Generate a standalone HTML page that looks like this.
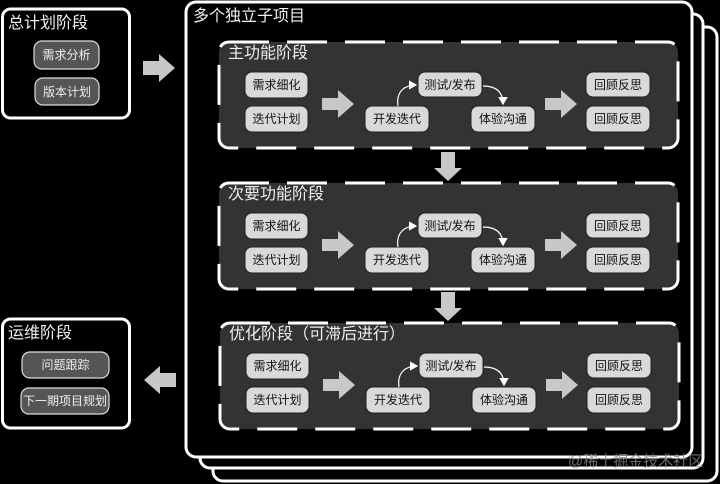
<!DOCTYPE html>
<html><head><meta charset="utf-8"><style>
html,body{margin:0;padding:0;background:#000;width:720px;height:484px;overflow:hidden}
text{font-family:"Liberation Sans","Noto Sans CJK SC",sans-serif}
.n{fill:#d9d9d9;stroke:#222;stroke-width:1}
.nt{font-size:12px;fill:#111;text-anchor:middle}
.d{fill:#555;stroke:#ddd;stroke-width:1.2}
.dt{font-size:12px;fill:#eee;text-anchor:middle}
.t{font-size:16px;fill:#eee}
.ar{fill:#c8c8c8}
.p{fill:#333;stroke:#fff;stroke-width:3;stroke-dasharray:40 18}
.c{fill:none;stroke:#fff;stroke-width:1.2}
</style></head><body>
<svg width="720" height="484" xmlns="http://www.w3.org/2000/svg">
<defs><marker id="m" markerWidth="8" markerHeight="8" refX="6" refY="4" orient="auto"><path d="M0,0 L7,4 L0,8 Z" fill="#fff"/></marker></defs>
<!-- stacked boxes -->
<rect x="213" y="27" width="504" height="454" rx="10" fill="#000" stroke="#fff" stroke-width="3"/>
<rect x="200" y="14" width="503" height="454" rx="10" fill="#000" stroke="#fff" stroke-width="3"/>
<rect x="186" y="2" width="506" height="455" rx="10" fill="#000" stroke="#fff" stroke-width="3"/>
<text x="193" y="21" class="t">多个独立子项目</text>
<!-- left boxes -->
<rect x="2.5" y="9" width="127" height="109" rx="8" fill="#000" stroke="#fff" stroke-width="3"/>
<text x="8" y="28" class="t">总计划阶段</text>
<rect x="34" y="41" width="65" height="28" rx="8" class="d"/><text x="66.5" y="59" class="dt">需求分析</text>
<rect x="35" y="78" width="64" height="27" rx="8" class="d"/><text x="67" y="96" class="dt">版本计划</text>
<path d="M143,61 h16 v-7 l16,14 l-16,14 v-7 h-16 z" class="ar"/>
<rect x="2.5" y="319" width="127" height="109" rx="8" fill="#000" stroke="#fff" stroke-width="3"/>
<text x="8" y="338" class="t">运维阶段</text>
<rect x="22" y="352" width="87" height="26" rx="8" class="d"/><text x="65.5" y="369" class="dt">问题跟踪</text>
<rect x="21" y="388" width="88" height="26" rx="8" class="d"/><text x="65" y="405" class="dt">下一期项目规划</text>
<path d="M176,373 h-16 v-7 l-16,14 l16,14 v-7 h16 z" class="ar"/>
<!-- down arrows -->
<path d="M441,152 h14 v16 h7 l-14,13 l-14,-13 h7 z" class="ar"/>
<path d="M441,292 h14 v16 h7 l-14,13 l-14,-13 h7 z" class="ar"/>
<!-- panel 1 -->
<g>
<rect x="219" y="42" width="459" height="106" rx="10" class="p"/>
<text x="228" y="58" class="t">主功能阶段</text>
<rect x="245" y="72" width="63" height="26" rx="7" class="n"/><text x="276.5" y="89" class="nt">需求细化</text>
<rect x="245" y="106" width="63" height="26" rx="7" class="n"/><text x="276.5" y="123" class="nt">迭代计划</text>
<path d="M322,98 h16 v-8 l16,14 l-16,14 v-8 h-16 z" class="ar"/>
<rect x="418" y="72" width="64" height="25" rx="7" class="n"/><text x="450" y="89" class="nt">测试/发布</text>
<rect x="365" y="106" width="64" height="26" rx="7" class="n"/><text x="397" y="123" class="nt">开发迭代</text>
<rect x="471" y="106" width="64" height="26" rx="7" class="n"/><text x="503" y="123" class="nt">体验沟通</text>
<path d="M398,106 C396,92 404,85 416,85" class="c" marker-end="url(#m)"/>
<path d="M483,86 C496,86 503,92 503,104" class="c" marker-end="url(#m)"/>
<path d="M545,98 h16 v-8 l16,14 l-16,14 v-8 h-16 z" class="ar"/>
<rect x="586" y="72" width="64" height="25" rx="7" class="n"/><text x="618" y="89" class="nt">回顾反思</text>
<rect x="586" y="106" width="64" height="26" rx="7" class="n"/><text x="618" y="123" class="nt">回顾反思</text>
</g>
<g transform="translate(0,141)">
<rect x="219" y="42" width="459" height="106" rx="10" class="p"/>
<text x="228" y="58" class="t">次要功能阶段</text>
<rect x="245" y="72" width="63" height="26" rx="7" class="n"/><text x="276.5" y="89" class="nt">需求细化</text>
<rect x="245" y="106" width="63" height="26" rx="7" class="n"/><text x="276.5" y="123" class="nt">迭代计划</text>
<path d="M322,98 h16 v-8 l16,14 l-16,14 v-8 h-16 z" class="ar"/>
<rect x="418" y="72" width="64" height="25" rx="7" class="n"/><text x="450" y="89" class="nt">测试/发布</text>
<rect x="365" y="106" width="64" height="26" rx="7" class="n"/><text x="397" y="123" class="nt">开发迭代</text>
<rect x="471" y="106" width="64" height="26" rx="7" class="n"/><text x="503" y="123" class="nt">体验沟通</text>
<path d="M398,106 C396,92 404,85 416,85" class="c" marker-end="url(#m)"/>
<path d="M483,86 C496,86 503,92 503,104" class="c" marker-end="url(#m)"/>
<path d="M545,98 h16 v-8 l16,14 l-16,14 v-8 h-16 z" class="ar"/>
<rect x="586" y="72" width="64" height="25" rx="7" class="n"/><text x="618" y="89" class="nt">回顾反思</text>
<rect x="586" y="106" width="64" height="26" rx="7" class="n"/><text x="618" y="123" class="nt">回顾反思</text>
</g>
<g transform="translate(1,281)">
<rect x="219" y="42" width="459" height="106" rx="10" class="p"/>
<text x="228" y="58" class="t">优化阶段（可滞后进行）</text>
<rect x="245" y="72" width="63" height="26" rx="7" class="n"/><text x="276.5" y="89" class="nt">需求细化</text>
<rect x="245" y="106" width="63" height="26" rx="7" class="n"/><text x="276.5" y="123" class="nt">迭代计划</text>
<path d="M322,98 h16 v-8 l16,14 l-16,14 v-8 h-16 z" class="ar"/>
<rect x="418" y="72" width="64" height="25" rx="7" class="n"/><text x="450" y="89" class="nt">测试/发布</text>
<rect x="365" y="106" width="64" height="26" rx="7" class="n"/><text x="397" y="123" class="nt">开发迭代</text>
<rect x="471" y="106" width="64" height="26" rx="7" class="n"/><text x="503" y="123" class="nt">体验沟通</text>
<path d="M398,106 C396,92 404,85 416,85" class="c" marker-end="url(#m)"/>
<path d="M483,86 C496,86 503,92 503,104" class="c" marker-end="url(#m)"/>
<path d="M545,98 h16 v-8 l16,14 l-16,14 v-8 h-16 z" class="ar"/>
<rect x="586" y="72" width="64" height="25" rx="7" class="n"/><text x="618" y="89" class="nt">回顾反思</text>
<rect x="586" y="106" width="64" height="26" rx="7" class="n"/><text x="618" y="123" class="nt">回顾反思</text>
</g>
<text x="568" y="466" font-size="15" fill="#888" opacity="0.8">@稀土掘金技术社区</text>
</svg>
</body></html>
